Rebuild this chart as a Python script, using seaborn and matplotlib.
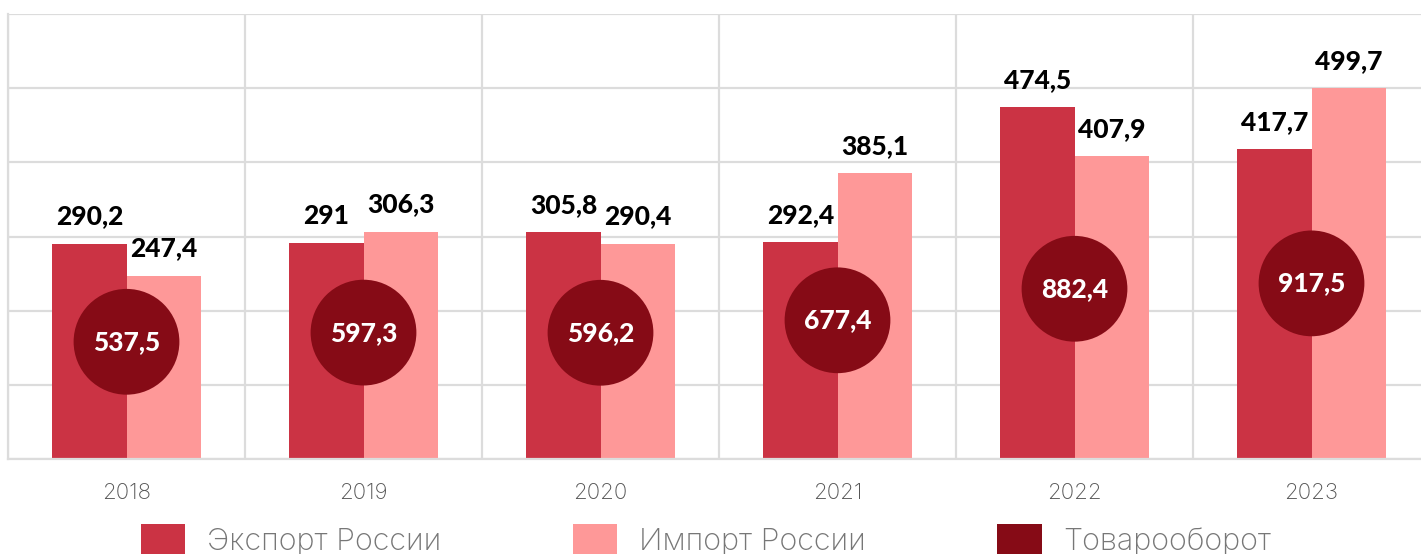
import numpy as np
import pandas as pd
import matplotlib
matplotlib.use("Agg")
import matplotlib.pyplot as plt
import seaborn as sns
from matplotlib.patches import Patch

years = ["2018", "2019", "2020", "2021", "2022", "2023"]
export_ru = [290.2, 291.0, 305.8, 292.4, 474.5, 417.7]
import_ru = [247.4, 306.3, 290.4, 385.1, 407.9, 499.7]
turnover = [537.5, 597.3, 596.2, 677.4, 882.4, 917.5]
series_names = ["Экспорт России", "Импорт России", "Товарооборот"]

c_exp = "#CB3344"
c_imp = "#FE9898"
c_tot = "#860B16"
grid_c = "#DCDCDC"

sns.set_theme(style="white")
plt.rcParams["font.family"] = ["Inter", "DejaVu Sans"]
bold_family = ["Lato", "DejaVu Sans"]

def fmt(v):
    return f"{v:g}".replace(".", ",")

df = pd.DataFrame({
    "year": years * 2,
    "value": export_ru + import_ru,
    "series": [series_names[0]] * len(years) + [series_names[1]] * len(years),
})

fig = plt.figure(figsize=(14.21, 5.54), dpi=100)
ax = fig.add_axes([8 / 1421, 1 - 459 / 554, 1422 / 1421, 445 / 554])

sns.barplot(data=df, x="year", y="value", hue="series", order=years,
            hue_order=series_names[:2], palette=[c_exp, c_imp],
            width=0.625, saturation=1, legend=False, ax=ax, zorder=2,
            linewidth=0, edgecolor="none")

ax.set_ylim(0, 600)
ax.set_xlim(-0.5, len(years) - 0.5)
ax.set_yticks(np.arange(0, 601, 100))
ax.set_yticklabels([])
ax.set_xticks(np.arange(-0.5, len(years), 1.0), minor=True)
ax.grid(True, axis="y", color=grid_c, lw=1.6)
ax.grid(True, axis="x", which="minor", color=grid_c, lw=1.6)
ax.grid(False, axis="x", which="major")
ax.set_axisbelow(True)
for s in ["top", "right"]:
    ax.spines[s].set_visible(False)
for s in ["left", "bottom"]:
    ax.spines[s].set_color(grid_c)
    ax.spines[s].set_linewidth(1.6)
ax.set_xlabel("")
ax.set_ylabel("")
ax.tick_params(axis="x", which="both", length=0, pad=17, labelsize=16,
               labelcolor="#555555")
ax.tick_params(axis="y", length=0)
for t in ax.get_xticklabels():
    t.set_fontweight("light")

for cont, vals in zip(ax.containers, [export_ru, import_ru]):
    ax.bar_label(cont, labels=[fmt(v) for v in vals], padding=11,
                 fontsize=19, fontweight="black", color="black",
                 family=bold_family)

ax2 = ax.twinx()
xpos = np.arange(len(years))
sns.scatterplot(x=xpos, y=turnover, s=5800, color=c_tot, edgecolor="none",
                ax=ax2, zorder=3, legend=False)
for x, v in zip(xpos, turnover):
    ax2.text(x, v, fmt(v), ha="center", va="center", color="white",
             fontsize=19, fontweight="black", family=bold_family, zorder=4)
ax2.set_ylim(-225, 2670)
ax2.set_axis_off()

handles = [Patch(facecolor=c, edgecolor="none") for c in [c_exp, c_imp, c_tot]]
leg = fig.legend(handles, series_names, loc="upper center",
                 bbox_to_anchor=(0.497, 1 - 524 / 554), ncol=3, frameon=False,
                 fontsize=22, handlelength=1.45, handleheight=1.25,
                 handletextpad=0.72, columnspacing=4.3, borderpad=0,
                 borderaxespad=0)
for t in leg.get_texts():
    t.set_color("#777777")
    t.set_fontweight("light")

fig.savefig("out.png", dpi=100)
